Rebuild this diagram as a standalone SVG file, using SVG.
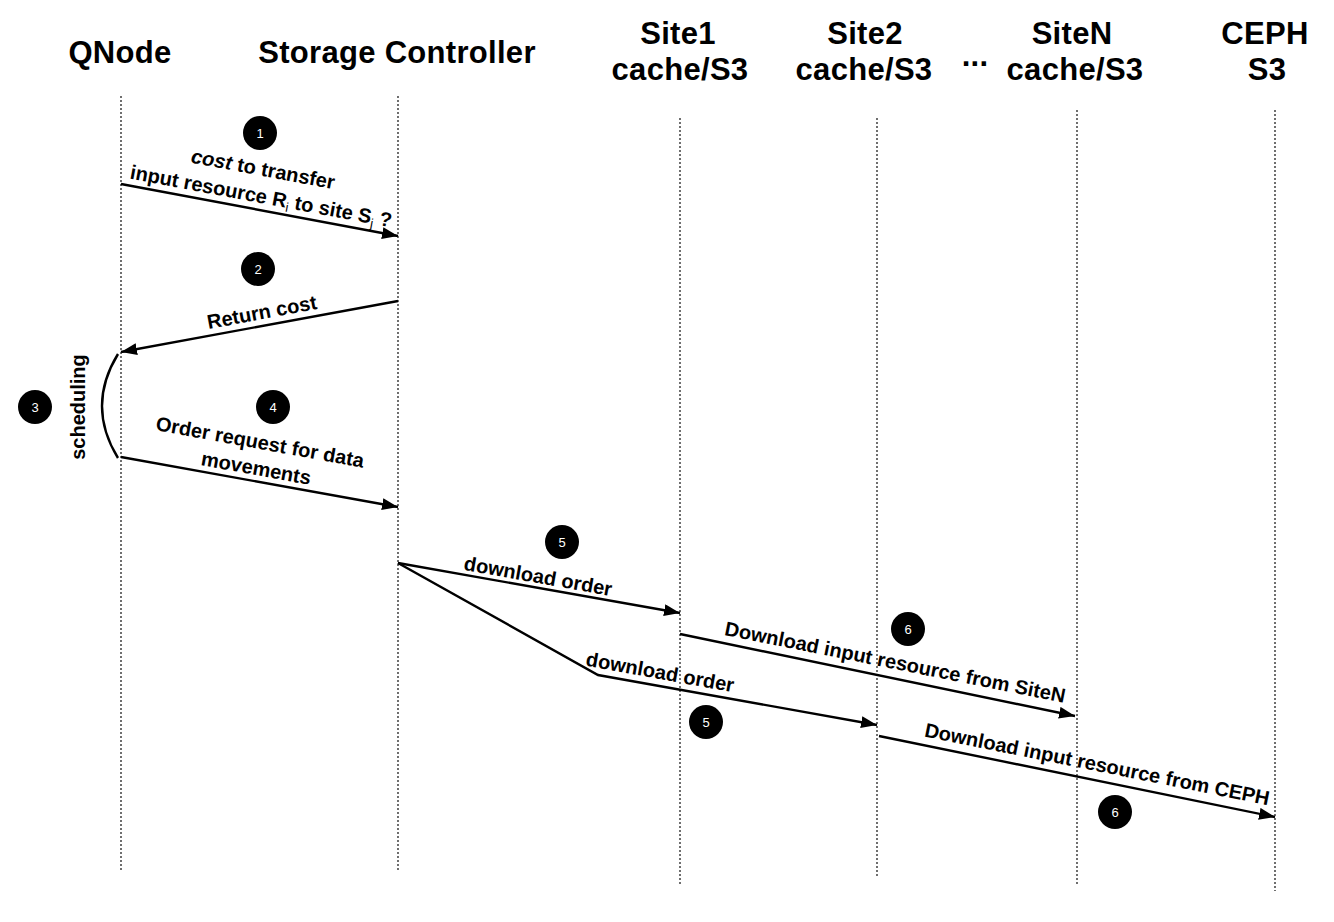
<svg xmlns="http://www.w3.org/2000/svg" width="1334" height="922" viewBox="0 0 1334 922">
<style>
.hdr{font-family:"Liberation Sans",Arial,sans-serif;font-weight:bold;font-size:31px;letter-spacing:0.3px;fill:#000;text-anchor:middle}
.life{stroke:#222;stroke-width:1.3;stroke-dasharray:2 2;fill:none}
.conn{stroke:#000;stroke-width:2.4;fill:none}
.lbl{font-family:"Liberation Sans",Arial,sans-serif;font-weight:bold;font-size:20px;fill:#000;text-anchor:middle}
.badge circle{fill:#000}
.badge text{font-family:"Liberation Sans",Arial,sans-serif;font-size:13px;fill:#fff;text-anchor:middle}
</style>
<defs>
<marker id="ah" markerUnits="userSpaceOnUse" markerWidth="18" markerHeight="14" refX="16" refY="6" orient="auto">
<path d="M0,0 L16,6 L0,12 z" fill="#000"/>
</marker>
</defs>
<rect width="1334" height="922" fill="#fff"/>

<g id="qnode">
<text class="hdr" x="120" y="63">QNode</text>
<line class="life" x1="121" y1="96" x2="121" y2="872"/>
</g>
<g id="storage-controller">
<text class="hdr" x="397" y="63">Storage Controller</text>
<line class="life" x1="398" y1="96" x2="398" y2="872"/>
</g>
<g id="site1">
<text class="hdr" x="678" y="44">Site1</text>
<text class="hdr" x="680" y="80">cache/S3</text>
<line class="life" x1="680" y1="118" x2="680" y2="885"/>
</g>
<g id="site2">
<text class="hdr" x="865" y="44">Site2</text>
<text class="hdr" x="864" y="80">cache/S3</text>
<line class="life" x1="877" y1="118" x2="877" y2="878"/>
</g>
<text class="hdr" x="975" y="66">...</text>
<g id="siteN">
<text class="hdr" x="1072" y="44">SiteN</text>
<text class="hdr" x="1075" y="80">cache/S3</text>
<line class="life" x1="1077" y1="110" x2="1077" y2="885"/>
</g>
<g id="ceph">
<text class="hdr" x="1265" y="44">CEPH</text>
<text class="hdr" x="1267" y="80">S3</text>
<line class="life" x1="1275" y1="110" x2="1275" y2="891"/>
</g>

<g id="connectors">
<path class="conn" d="M121,184 L398,236" marker-end="url(#ah)"/>
<path class="conn" d="M398,301 L121,352" marker-end="url(#ah)"/>
<path class="conn" d="M118,354 Q86,406 118,458"/>
<path class="conn" d="M121,457 L398,507" marker-end="url(#ah)"/>
<path class="conn" d="M398,563 L680,613" marker-end="url(#ah)"/>
<path class="conn" d="M398,563 L598,675 L877,725" marker-end="url(#ah)"/>
<path class="conn" d="M680,634 L1075,716" marker-end="url(#ah)"/>
<path class="conn" d="M879,736 L1275,817" marker-end="url(#ah)"/>
</g>

<g id="labels">
<text class="lbl" transform="translate(263,170) rotate(10.6)" y="6"><tspan font-style="italic">cost</tspan> to transfer</text>
<text class="lbl" transform="translate(261,197) rotate(10.6)" y="6">input resource R<tspan font-size="13" font-weight="normal" dy="4">i</tspan><tspan dy="-4"> to site S</tspan><tspan font-size="13" font-weight="normal" dy="4">j</tspan><tspan dy="-4"> ?</tspan></text>
<text class="lbl" transform="translate(262,313) rotate(-10.5)" y="6">Return cost</text>
<text class="lbl" transform="translate(78,407) rotate(-90)" y="7">scheduling</text>
<text class="lbl" transform="translate(260,443) rotate(10.3)" y="6">Order request for data</text>
<text class="lbl" transform="translate(256,469) rotate(10.3)" y="6">movements</text>
<text class="lbl" transform="translate(538,577) rotate(10.1)" y="6">download order</text>
<text class="lbl" transform="translate(660,673) rotate(10.2)" y="6">download order</text>
<text class="lbl" transform="translate(895,663) rotate(11.3)" y="6">Download input resource from SiteN</text>
<text class="lbl" transform="translate(1097,765) rotate(11.3)" y="6">Download input resource from CEPH</text>
</g>

<g id="badge1" class="badge"><circle cx="260" cy="133" r="17"/><text x="260" y="137.5">1</text></g>
<g id="badge2" class="badge"><circle cx="258" cy="269" r="17"/><text x="258" y="273.5">2</text></g>
<g id="badge3" class="badge"><circle cx="35" cy="407" r="17"/><text x="35" y="411.5">3</text></g>
<g id="badge4" class="badge"><circle cx="273" cy="407" r="17"/><text x="273" y="411.5">4</text></g>
<g id="badge5a" class="badge"><circle cx="562" cy="542" r="17"/><text x="562" y="546.5">5</text></g>
<g id="badge5b" class="badge"><circle cx="706" cy="722" r="17"/><text x="706" y="726.5">5</text></g>
<g id="badge6a" class="badge"><circle cx="908" cy="629" r="17"/><text x="908" y="633.5">6</text></g>
<g id="badge6b" class="badge"><circle cx="1115" cy="812" r="17"/><text x="1115" y="816.5">6</text></g>
</svg>
